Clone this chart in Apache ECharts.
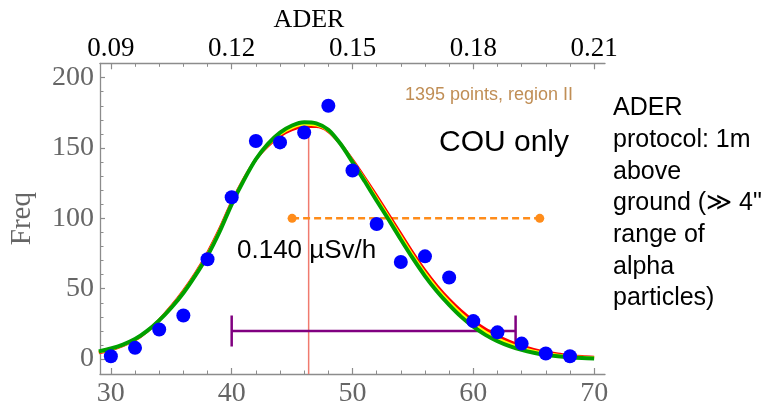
<!DOCTYPE html>
<html>
<head>
<meta charset="utf-8">
<script src="https://cdn.jsdelivr.net/npm/echarts@6/dist/echarts.min.js"></script>
<style>
html,body{margin:0;padding:0;background:#fff;}
#chart{width:772px;height:408px;}
</style>
</head>
<body>
<div id="chart"></div>
<script>
// ---- data ----
const binCenters = [30,32,34,36,38,40,42,44,46,48,50,52,54,56,58,60,62,64,66,68];
const freq = [2,8,21,31,71,115,155,154,161,180,134,96,69,73,58,27,19,11,4,2];

const curveX = [29,30,31,32,33,34,35,36,37,38,39,40,41,42,43,44,45,46,47,48,49,50,51,52,53,54,55,56,57,58,59,60,61,62,63,64,65,66,67,68,69,70];
const redFit = [4.5,6.5,9.5,13.5,19.8,27.8,37.5,48.5,61,75.5,92.5,111.5,128,142,151.5,158.5,163,165.3,165.2,161.8,153,141.5,129,116,102.5,89,75.5,63,52,42.5,34.3,27.3,21.3,16.5,12.5,9.3,6.8,5,3.6,2.6,1.8,1.3];
const yellowFit = [5,7,9.9,13.9,19.9,27.6,37,47.8,60.2,74.5,91.5,110.7,127.5,142,152.3,159.8,164.5,166.8,166.4,162.4,153,140.7,127.7,114.2,100.7,87,73.5,61,50,40.5,32.1,25.1,19.2,14.6,10.8,7.9,5.6,4,2.8,1.9,1.3,0.9];
const greenFit = [5.5,7.5,10.3,14.2,20,27.5,36.5,47,59.5,73.5,90.5,110,127,142,153,161,166,168.3,167.5,163,153,140,126.5,112.5,99,85,71.5,59,48,38.5,30,23,17.2,12.7,9.2,6.5,4.5,3,2,1.3,0.8,0.5];

const meanValue = 46.37;
const meanLineTop = 166.5;
const orangeRange = [45.0, 65.5];
const orangeLevel = 100;
const purpleRange = [40.0, 63.5];
const purpleLevel = 20;
const purpleHalfCap = 11;

const xRange = [29.1, 70.9];
const yRange = [-10.6, 210.2];
const topRange = [0.0873, 0.2127];
const bottomTicks = [30,40,50,60,70];
const bottomMinorTicks = [30,32,34,36,38,40,42,44,46,48,50,52,54,56,58,60,62,64,66,68,70];
const topTicks = [0.09,0.12,0.15,0.18,0.21];
const topMinorTicks = [0.09,0.096,0.102,0.108,0.114,0.12,0.126,0.132,0.138,0.144,0.15,0.156,0.162,0.168,0.174,0.18,0.186,0.192,0.198,0.204,0.21];
const leftTicks = [0,50,100,150,200];
const leftMinorTicks = [0,10,20,30,40,50,60,70,80,90,100,110,120,130,140,150,160,170,180,190,200,210];

const topTitle = 'ADER';
const yTitle = 'Freq';
const noteRegion = '1395 points, region II';
const noteCou = 'COU only';
const noteMean = '0.140 µSv/h';
const noteSide = 'ADER\nprotocol: 1m\nabove\nground (\u226B 4"\nrange of\nalpha\nparticles)';

// ---- chart ----
const axisColor = '#8c8c8c';
const labelGray = '#666666';
const serif = '"Liberation Serif", "DejaVu Serif", serif';
const sans = '"Liberation Sans", Arial, Helvetica, sans-serif';

const chart = echarts.init(document.getElementById('chart'), null, {renderer:'canvas'});

function majorAxis(pos, range, ticks, labelColor, fmt, fontSize, margin, len) {
  return {
    type:'value', position:pos, min:range[0], max:range[1],
    axisLine:{show:true, onZero:false, lineStyle:{color:axisColor, width:1.3}},
    axisTick:{show:true, inside:true, length:len, customValues:ticks, lineStyle:{color:axisColor, width:1.2}},
    axisLabel:{show:true, customValues:ticks, formatter:fmt, color:labelColor, fontFamily:serif, fontSize:fontSize, margin:margin},
    splitLine:{show:false}
  };
}
function minorAxis(pos, range, ticks, len) {
  return {
    type:'value', position:pos, min:range[0], max:range[1],
    axisLine:{show:false, onZero:false},
    axisTick:{show:true, inside:true, length:len, customValues:ticks, lineStyle:{color:axisColor, width:1}},
    axisLabel:{show:false},
    splitLine:{show:false}
  };
}

const curveData = arr => curveX.map((x,i)=>[x, arr[i]]);

const yMajor = majorAxis('left', yRange, leftTicks, labelGray, v=>String(v), 28, 6, 5);
yMajor.name = yTitle;
yMajor.nameLocation = 'middle';
yMajor.nameRotate = 90;
yMajor.nameGap = 63;
yMajor.nameTextStyle = {fontFamily:serif, fontSize:29, color:labelGray};

const option = {
  animation:false,
  backgroundColor:'#ffffff',
  grid:{left:97.3, top:63.3, right:167, bottom:33, containLabel:false},
  xAxis:[
    majorAxis('bottom', xRange, bottomTicks, labelGray, v=>String(v), 28, 6, 6),
    minorAxis('bottom', xRange, bottomMinorTicks, 3.5),
    majorAxis('top', topRange, topTicks, '#000000', v=>v.toFixed(2), 27, 1, 6),
    minorAxis('top', topRange, topMinorTicks, 3.5)
  ],
  yAxis:[
    yMajor,
    minorAxis('left', yRange, leftMinorTicks, 3.5)
  ],
  series:[
    {type:'line', name:'mean', data:[[meanValue, yRange[0]],[meanValue, meanLineTop]], showSymbol:false, symbol:'none',
     lineStyle:{color:'#f07a6e', width:1.5}, z:1},
    {type:'line', name:'range', data:[[orangeRange[0],orangeLevel],[orangeRange[1],orangeLevel]], symbol:'circle', symbolSize:9, showSymbol:true,
     itemStyle:{color:'#ff8c1a'}, lineStyle:{color:'#ff8c1a', width:2.5, type:[7,4]}, z:2},
    {type:'line', name:'pbar', data:[[purpleRange[0],purpleLevel],[purpleRange[1],purpleLevel]], symbol:'none',
     lineStyle:{color:'#800080', width:2.5}, z:2},
    {type:'line', name:'pcapL', data:[[purpleRange[0],purpleLevel-purpleHalfCap],[purpleRange[0],purpleLevel+purpleHalfCap]], symbol:'none',
     lineStyle:{color:'#800080', width:2.5}, z:2},
    {type:'line', name:'pcapR', data:[[purpleRange[1],purpleLevel-purpleHalfCap],[purpleRange[1],purpleLevel+purpleHalfCap]], symbol:'none',
     lineStyle:{color:'#800080', width:2.5}, z:2},
    {type:'line', name:'red', data:curveData(redFit), smooth:0.3, symbol:'none', lineStyle:{color:'#ff0000', width:3}, z:3},
    {type:'line', name:'yellow', data:curveData(yellowFit), smooth:0.3, symbol:'none', lineStyle:{color:'#ffff00', width:3}, z:4},
    {type:'line', name:'green', data:curveData(greenFit), smooth:0.3, symbol:'none', lineStyle:{color:'#00a000', width:4}, z:5},
    {type:'scatter', name:'freq', data:binCenters.map((x,i)=>[x,freq[i]]), symbol:'circle', symbolSize:14,
     itemStyle:{color:'#0000ff', opacity:1}, z:10}
  ],
  graphic:[
    {type:'text', x:309, y:20, style:{text:topTitle, font:'26px '+serif, fill:'#000', align:'center', verticalAlign:'middle'}},
    {type:'text', x:405, y:95, style:{text:noteRegion, font:'18px '+sans, fill:'#c08e55', align:'left', verticalAlign:'middle'}},
    {type:'text', x:439, y:142.5, style:{text:noteCou, font:'30px '+sans, fill:'#000', align:'left', verticalAlign:'middle'}},
    {type:'text', x:237, y:250.5, z:20, style:{text:noteMean, font:'26px '+sans, fill:'#000', align:'left', verticalAlign:'middle'}},
    {type:'text', x:613, y:92.5, style:{text:noteSide, font:'25px '+sans, fill:'#000', align:'left', verticalAlign:'top', lineHeight:31.7}}
  ]
};
chart.setOption(option);
</script>
</body>
</html>
